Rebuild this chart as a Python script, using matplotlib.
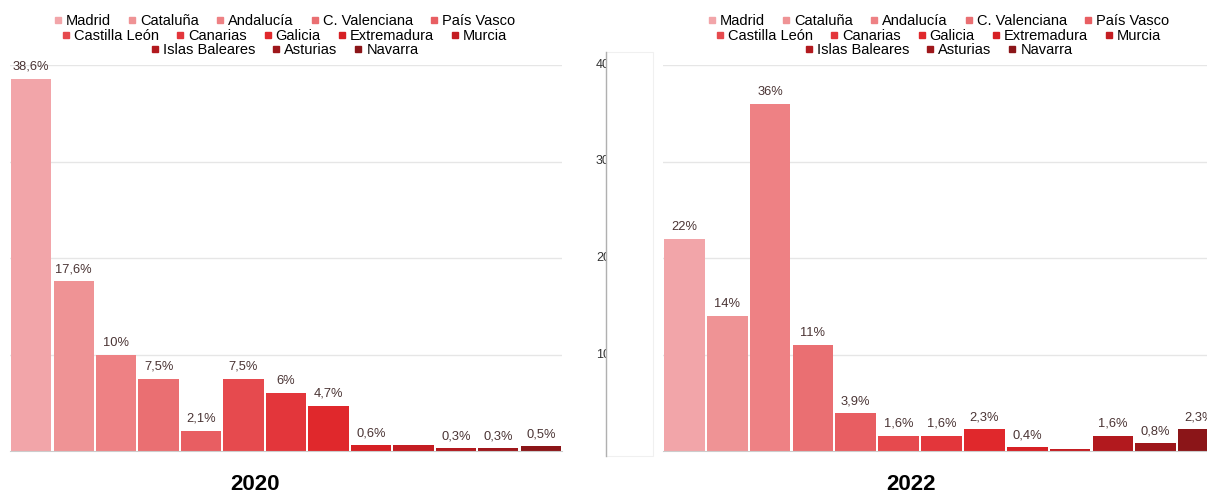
import matplotlib
matplotlib.use("Agg")
import matplotlib.pyplot as plt
from matplotlib.lines import Line2D
from matplotlib.legend import Legend
from matplotlib.patches import Rectangle

# data
regions = ["Madrid", "Cataluña", "Andalucía", "C. Valenciana", "País Vasco",
           "Castilla León", "Canarias", "Galicia", "Extremadura", "Murcia",
           "Islas Baleares", "Asturias", "Navarra"]
values_2020 = [38.6, 17.6, 10, 7.5, 2.1, 7.5, 6, 4.7, 0.6, 0.6, 0.3, 0.3, 0.5]
labels_2020 = ["38,6%", "17,6%", "10%", "7,5%", "2,1%", "7,5%", "6%", "4,7%",
               "0,6%", "", "0,3%", "0,3%", "0,5%"]
values_2022 = [22, 14, 36, 11, 3.9, 1.6, 1.6, 2.3, 0.4, 0.2, 1.6, 0.8, 2.3]
labels_2022 = ["22%", "14%", "36%", "11%", "3,9%", "1,6%", "1,6%", "2,3%",
               "0,4%", "", "1,6%", "0,8%", "2,3%"]
colors = ["#F2A5A9", "#EF9395", "#EE8184", "#EA6F72", "#E85E62", "#E64A4E",
          "#E3363B", "#E0282C", "#D62024", "#C41D22", "#B2191E", "#9E171B",
          "#8B1518"]
y_ticks = [10, 20, 30, 40]
stub_labels = ["10", "20", "30", "40"]

plt.rcParams['font.family'] = ['Liberation Sans', 'DejaVu Sans']

W, H = 1207, 495
fig = plt.figure(figsize=(W / 100, H / 100), dpi=100)


def box(x0, y0, x1, y1):
    # pixel box (top-left origin) -> figure fraction
    return [x0 / W, 1 - y1 / H, (x1 - x0) / W, (y1 - y0) / H]


def draw_panel(ax, values, labels):
    xs = range(len(values))
    ax.bar(xs, values, width=0.95, color=colors, zorder=2)
    for x, v, lab in zip(xs, values, labels):
        if lab:
            ax.text(x, v + 0.6, lab, ha="center", va="bottom",
                    fontsize=9.3, color="#4a3434")
    ax.set_xlim(-0.5, len(values) - 0.5)
    ax.set_ylim(0, 40)
    ax.set_yticks(y_ticks)
    ax.yaxis.grid(True, color="#e6e6e6", lw=1, zorder=0)
    ax.tick_params(left=False, bottom=False, labelleft=False, labelbottom=False)
    for s in ["top", "right", "left"]:
        ax.spines[s].set_visible(False)
    ax.spines["bottom"].set_color("#cccccc")


def draw_legend(ax, cx):
    rows = [(0, 5, 21), (5, 10, 36), (10, 13, 50)]
    for a, b, yp in rows:
        handles = [Line2D([], [], marker="s", ls="none", markersize=5,
                          color=colors[i]) for i in range(a, b)]
        leg = Legend(ax, handles, regions[a:b], ncol=b - a, loc="center",
                     bbox_to_anchor=(cx / W, 1 - yp / H),
                     bbox_transform=fig.transFigure, frameon=False,
                     fontsize=10.5, handletextpad=0.2, handlelength=0.7,
                     columnspacing=1.1, borderpad=0, borderaxespad=0)
        ax.add_artist(leg)


ax1 = fig.add_axes(box(10, 65, 562, 451))
ax2 = fig.add_axes(box(663, 65, 1220, 451))
draw_panel(ax1, values_2020, labels_2020)
draw_panel(ax2, values_2022, labels_2022)
draw_legend(ax1, 284)
draw_legend(ax2, 938)

fig.text(255 / W, 1 - 485 / H, "2020", ha="center", va="center",
         fontsize=16, fontweight="bold")
fig.text(911 / W, 1 - 485 / H, "2022", ha="center", va="center",
         fontsize=16, fontweight="bold")

# cut-off y axis of the second panel, hidden behind a white card
for t, lab in zip(y_ticks, stub_labels):
    yp = 451 - t * 9.65
    fig.text(596 / W, 1 - yp / H, lab, ha="left", va="center",
             fontsize=9, color="#333333", zorder=1)
fig.patches.append(Rectangle((606 / W, 1 - 456 / H), 47 / W, 404 / H,
                             transform=fig.transFigure, facecolor="white",
                             edgecolor="#f0f0f0", lw=0.8, zorder=10))
fig.lines.append(Line2D([606 / W, 606 / W], [1 - 456 / H, 1 - 52 / H],
                        transform=fig.transFigure, color="#b0b0b0", lw=1,
                        zorder=11))

fig.savefig("out.png", dpi=100)
